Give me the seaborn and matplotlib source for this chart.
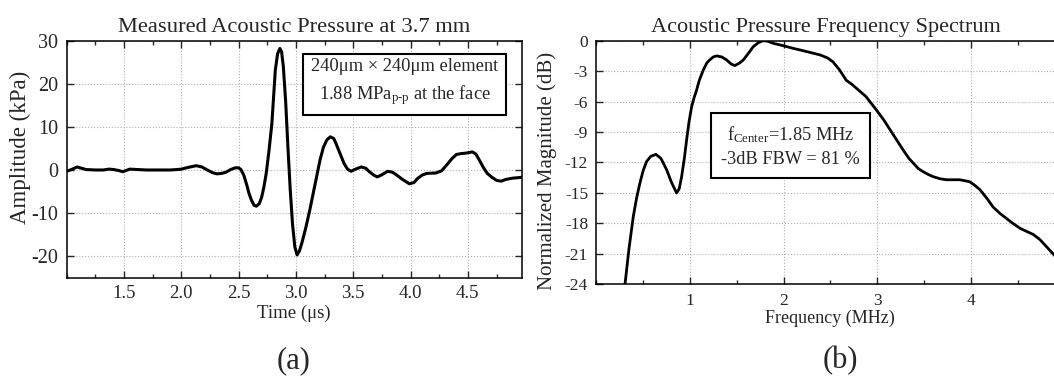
import numpy as np
import pandas as pd
import matplotlib
matplotlib.use("Agg")
import matplotlib.pyplot as plt
import seaborn as sns
from matplotlib.ticker import MultipleLocator

# measured pressure waveform (panel a)
time_us = [1.00, 1.05, 1.09, 1.13, 1.17, 1.25, 1.32, 1.37, 1.41, 1.45, 1.49, 1.52, 1.55,
           1.62, 1.70, 1.80, 1.90, 1.96, 2.00, 2.06, 2.13, 2.18, 2.22, 2.27, 2.31, 2.35,
           2.39, 2.43, 2.47, 2.50, 2.52, 2.545, 2.57, 2.59, 2.61, 2.635, 2.655, 2.68,
           2.70, 2.72, 2.74, 2.765, 2.79, 2.805, 2.82, 2.84, 2.86, 2.875, 2.89, 2.91,
           2.93, 2.95, 2.97, 2.99, 3.01, 3.03, 3.05, 3.085, 3.12, 3.15, 3.18, 3.21,
           3.24, 3.27, 3.30, 3.33, 3.35, 3.385, 3.42, 3.45, 3.48, 3.52, 3.57, 3.61,
           3.64, 3.68, 3.71, 3.75, 3.80, 3.84, 3.87, 3.93, 3.99, 4.03, 4.06, 4.10,
           4.14, 4.22, 4.27, 4.31, 4.36, 4.40, 4.44, 4.48, 4.54, 4.57, 4.60, 4.635,
           4.67, 4.71, 4.75, 4.79, 4.83, 4.89, 4.97]
amp_kpa = [-0.3, 0.2, 0.7, 0.4, 0.1, 0.0, 0.0, 0.2, 0.1, -0.1, -0.4, -0.1, 0.2,
           0.1, 0.0, 0.0, 0.0, 0.1, 0.2, 0.6, 1.0, 0.7, 0.1, -0.6, -0.9, -0.8,
           -0.5, 0.1, 0.5, 0.5, 0.1, -1.2, -3.4, -5.4, -6.9, -8.2, -8.4, -7.8,
           -6.4, -4.0, -0.9, 4.5, 10.8, 17.0, 23.2, 27.0, 28.2, 27.4, 24.0, 16.0,
           5.3, -4.5, -12.5, -17.8, -19.7, -18.8, -17.1, -13.5, -9.4, -5.5, -1.6, 2.3,
           5.3, 7.0, 7.7, 7.3, 6.1, 3.8, 1.5, 0.2, -0.3, 0.2, 0.7, 0.4,
           -0.4, -1.2, -1.6, -1.1, -0.3, -0.5, -1.0, -2.2, -3.2, -2.9, -2.0, -1.2,
           -0.8, -0.7, -0.2, 1.0, 2.6, 3.6, 3.8, 3.9, 4.2, 3.7, 2.3, 0.6,
           -0.8, -1.7, -2.4, -2.6, -2.2, -1.9, -1.7]

# frequency spectrum (panel b)
freq_mhz = [0.306, 0.35, 0.395, 0.43, 0.466, 0.50, 0.537, 0.58, 0.637, 0.69, 0.75, 0.80,
            0.857, 0.885, 0.911, 0.94, 0.964, 0.99, 1.018, 1.045, 1.07, 1.10, 1.142, 1.18,
            1.21, 1.25, 1.285, 1.34, 1.392, 1.44, 1.48, 1.53, 1.57, 1.62, 1.676, 1.73,
            1.78, 1.83, 1.89, 2.00, 2.10, 2.17, 2.28, 2.39, 2.47, 2.53, 2.60, 2.67,
            2.73, 2.78, 2.88, 2.99, 3.07, 3.14, 3.21, 3.28, 3.34, 3.39, 3.44, 3.49,
            3.55, 3.60, 3.67, 3.74, 3.81, 3.88, 3.94, 3.99, 4.05, 4.10, 4.17, 4.24,
            4.31, 4.38, 4.45, 4.53, 4.60, 4.67, 4.74, 4.81, 4.86, 4.90]
mag_db = [-24.0, -20.4, -17.3, -15.5, -14.0, -12.8, -11.9, -11.4, -11.2, -11.6, -12.7, -13.9,
          -15.0, -14.6, -13.4, -11.6, -9.8, -8.0, -6.5, -5.6, -4.9, -3.9, -2.9, -2.2,
          -1.9, -1.6, -1.5, -1.6, -1.9, -2.3, -2.45, -2.2, -1.9, -1.3, -0.6, -0.2,
          0.0, -0.05, -0.26, -0.5, -0.75, -0.9, -1.15, -1.4, -1.7, -2.1, -2.9, -3.9,
          -4.3, -4.7, -5.5, -6.8, -7.8, -8.8, -9.8, -10.8, -11.6, -12.1, -12.6, -12.9,
          -13.2, -13.4, -13.6, -13.7, -13.7, -13.7, -13.8, -13.9, -14.3, -14.7, -15.5, -16.4,
          -17.0, -17.5, -18.0, -18.5, -18.8, -19.1, -19.6, -20.3, -20.8, -21.2]

sns.set_style("ticks")
plt.rcParams['font.family'] = ['Liberation Serif', 'DejaVu Serif']
plt.rcParams['mathtext.fontset'] = 'custom'
plt.rcParams['mathtext.rm'] = 'Liberation Serif'
plt.rcParams['mathtext.it'] = 'Liberation Serif:italic'
plt.rcParams['axes.unicode_minus'] = False

fig = plt.figure(figsize=(10.54, 3.76), dpi=100)
ax1 = fig.add_axes([0.0633, 0.2614, 0.4317, 0.6303])
ax2 = fig.add_axes([0.5658, 0.2439, 0.444, 0.6479])

wave = pd.DataFrame({'t': time_us, 'p': amp_kpa})
spec = pd.DataFrame({'f': freq_mhz, 'db': mag_db})

sns.lineplot(data=wave, x='t', y='p', ax=ax1, color='black', linewidth=2.2, sort=False)
sns.lineplot(data=spec, x='f', y='db', ax=ax2, color='black', linewidth=2.0, sort=False)

for ax in (ax1, ax2):
    ax.grid(True, which='major', linestyle=':', color='#b0b0b0', linewidth=0.8)
    ax.tick_params(which='both', direction='in', top=True, right=True, width=1.0)
    ax.tick_params(which='major', length=5)
    ax.tick_params(which='minor', length=3)
    for s in ax.spines.values():
        s.set_linewidth(1.1)
        s.set_color('black')

# panel a
ax1.set_xlim(1.0, 4.97)
ax1.set_ylim(-25, 30)
ax1.set_xticks([1.5, 2.0, 2.5, 3.0, 3.5, 4.0, 4.5])
ax1.set_xticklabels(['1.5', '2.0', '2.5', '3.0', '3.5', '4.0', '4.5'])
ax1.xaxis.set_minor_locator(MultipleLocator(0.25))
ax1.set_yticks([-20, -10, 0, 10, 20, 30])
ax1.tick_params(axis='y', which='major', labelsize=14.5, pad=6)
ax1.tick_params(axis='x', which='major', labelsize=13.5, pad=5)
ax1.set_title('Measured Acoustic Pressure at 3.7 mm', fontsize=16.2, pad=6)
ax1.set_xlabel('Time (μs)', fontsize=13.5)
ax1.xaxis.set_label_coords(0.5, -0.112)
ax1.set_ylabel('Amplitude (kPa)', fontsize=16.5)
ax1.yaxis.set_label_coords(-0.079, 0.55)
ax1.text(0.743, 0.823, '240μm × 240μm element\n1.88 MPa$_{\\mathrm{p\\text{-}p}}$ at the face',
         transform=ax1.transAxes, ha='center', va='center', fontsize=13.3, linespacing=1.5,
         zorder=10,
         bbox=dict(boxstyle='square,pad=0.42', facecolor='white', edgecolor='black', linewidth=1.5))

# panel b
ax2.set_xlim(0, 5)
ax2.set_ylim(-24, 0)
ax2.set_xticks([1, 2, 3, 4])
ax2.xaxis.set_minor_locator(MultipleLocator(0.5))
ax2.set_yticks([0, -3, -6, -9, -12, -15, -18, -21, -24])
ax2.tick_params(axis='both', which='major', labelsize=12.5, pad=6)
ax2.set_title('Acoustic Pressure Frequency Spectrum', fontsize=16, pad=6, x=0.49)
ax2.set_xlabel('Frequency (MHz)', fontsize=13)
ax2.xaxis.set_label_coords(0.5, -0.105)
ax2.set_ylabel('Normalized Magnitude (dB)', fontsize=15)
ax2.yaxis.set_label_coords(-0.0848, 0.466)
ax2.text(0.415, 0.568, 'f$_{\\mathrm{Center}}$=1.85 MHz\n-3dB FBW = 81 %',
         transform=ax2.transAxes, ha='center', va='center', fontsize=13.2, linespacing=1.5,
         zorder=10,
         bbox=dict(boxstyle='square,pad=0.55', facecolor='white', edgecolor='black', linewidth=1.5))

fig.text(294 / 1054, 1 - 361 / 376, '(a)', ha='center', va='center', fontsize=22)
fig.text(840 / 1054, 1 - 361 / 376, '(b)', ha='center', va='center', fontsize=22)

fig.savefig('out.png', dpi=100)
